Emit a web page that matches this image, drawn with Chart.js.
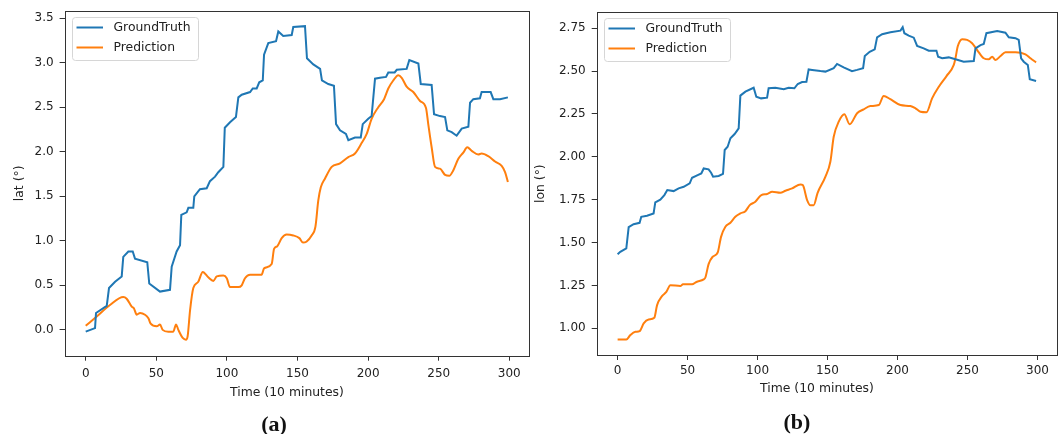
<!DOCTYPE html>
<html>
<head>
<meta charset="utf-8">
<script src="https://cdn.jsdelivr.net/npm/chart.js@4.4.0/dist/chart.umd.min.js"></script>
<style>
  body { margin: 0; background: #fff; }
  #wrap { position: relative; width: 1064px; height: 434px; overflow: hidden; background: #fff; }
  canvas { position: absolute; top: 0; }
  .xtitle { position: absolute; width: 200px; text-align: center; font: 12.4px "DejaVu Sans", sans-serif; line-height: 16px; color: #222; }
  .cap { position: absolute; width: 100px; text-align: center; font: bold 22px "Liberation Serif", "DejaVu Serif", serif; line-height: 26px; color: #111; }
</style>
</head>
<body>
<div id="wrap">
  <canvas id="latChart" width="532" height="434" style="left:0"></canvas>
  <canvas id="lonChart" width="532" height="434" style="left:532px"></canvas>
  <div class="xtitle" style="left:187px; top:384px">Time (10 minutes)</div>
  <div class="xtitle" style="left:717px; top:380px">Time (10 minutes)</div>
  <div class="cap" style="left:224px; top:411px">(a)</div>
  <div class="cap" style="left:747px; top:409px">(b)</div>
</div>
<script>
// Tick values
const timeTicks = [0, 50, 100, 150, 200, 250, 300];
const latTicks = [0, 0.5, 1.0, 1.5, 2.0, 2.5, 3.0, 3.5];
const lonTicks = [1.0, 1.25, 1.5, 1.75, 2.0, 2.25, 2.5, 2.75];
const seriesNames = ['GroundTruth', 'Prediction'];

// (a) latitude
const latTruthT = [0, 6.6, 7.3, 14.9, 16.5, 20.8, 25.5, 26.6, 30.2, 33.3, 34.9, 43.6, 45, 52.6, 59.7, 60.9, 64.4, 66.8, 67.7, 71.5,
  72.7, 76.2, 76.9, 80.9, 85.7, 88, 91.6, 93.9, 97.5, 98.5, 102.2, 106.4, 108.1, 110.5, 116.4, 118.3, 121.1, 122.9, 125.4, 126.3,
  129.3, 134.8, 136.4, 139.9, 145.9, 147, 155.3, 156.7, 161.2, 166, 167.3, 171.8, 175.8, 177.3, 180.1, 184.3, 186, 190.7, 194.8, 196.2,
  200.1, 202.5, 204.9, 208.4, 212.7, 214.3, 218.8, 220.3, 227.3, 229.2, 235.6, 237.3, 245, 246.7, 250.9, 254.5, 256.1, 259.2, 262.7, 266.3,
  271, 272.2, 274.5, 279.2, 280.4, 286.8, 288.7, 293.4, 299];
const latTruthV = [-0.02, 0.02, 0.19, 0.27, 0.47, 0.54, 0.60, 0.82, 0.88, 0.88, 0.80, 0.76, 0.52, 0.43, 0.45, 0.71, 0.88, 0.95, 1.29, 1.32,
  1.37, 1.37, 1.50, 1.58, 1.59, 1.67, 1.72, 1.77, 1.83, 2.27, 2.33, 2.39, 2.61, 2.64, 2.67, 2.71, 2.71, 2.78, 2.80, 3.09,
  3.22, 3.24, 3.35, 3.30, 3.31, 3.40, 3.41, 3.05, 2.98, 2.93, 2.80, 2.76, 2.74, 2.31, 2.24, 2.20, 2.13, 2.16, 2.16, 2.31,
  2.37, 2.40, 2.82, 2.83, 2.84, 2.89, 2.89, 2.92, 2.93, 3.03, 2.99, 2.76, 2.75, 2.42, 2.40, 2.39, 2.24, 2.22, 2.18, 2.26,
  2.28, 2.55, 2.59, 2.60, 2.67, 2.67, 2.59, 2.59, 2.61];
const latPredT = [0, 7.8, 17.2, 26.6, 29, 32.6, 34.2, 36.1, 38.5, 42, 44.4, 46, 50.3, 52.6, 54.5, 58.5, 62, 64, 65.6, 68.7,
  71, 72.2, 73.9, 76.2, 79.7, 82.9, 86.8, 90.4, 92.8, 97.5, 99.9, 102.2, 108.1, 110.5, 112.8, 116.4, 124.6, 126.3, 131.7, 133.4,
  135.7, 138.8, 142.3, 147, 151.3, 153.9, 156.3, 160, 162.7, 164.7, 166.5, 169.5, 174.2, 180.1, 186, 190.7, 195.5, 199, 202.5, 207.2,
  211.3, 214.3, 217.8, 221.4, 223.8, 227.3, 232, 236.8, 241, 242.6, 245, 247.4, 250.9, 254.5, 257.5, 260.3, 263.9, 267.4, 270.2, 273.4,
  278, 280.4, 285.1, 289.9, 294.6, 297, 299];
const latPredV = [0.045, 0.15, 0.28, 0.37, 0.35, 0.26, 0.24, 0.17, 0.19, 0.17, 0.13, 0.07, 0.04, 0.06, 0.0, -0.02, -0.02, 0.06, 0.0, -0.09,
  -0.11, -0.07, 0.22, 0.47, 0.54, 0.65, 0.59, 0.55, 0.60, 0.61, 0.58, 0.48, 0.48, 0.50, 0.58, 0.62, 0.62, 0.69, 0.74, 0.91,
  0.94, 1.03, 1.07, 1.06, 1.03, 0.98, 0.99, 1.06, 1.16, 1.45, 1.60, 1.70, 1.83, 1.87, 1.94, 1.98, 2.10, 2.20, 2.37, 2.50,
  2.59, 2.71, 2.80, 2.86, 2.83, 2.73, 2.67, 2.57, 2.49, 2.31, 2.05, 1.83, 1.81, 1.74, 1.73, 1.79, 1.92, 1.99, 2.05, 2.01,
  1.97, 1.98, 1.95, 1.89, 1.84, 1.77, 1.66];

// (b) longitude
const lonTruthT = [0, 1.9, 6.2, 7.9, 11.4, 15.7, 16.9, 21, 25.7, 26.9, 30.5, 33.4, 35.5, 40, 43.6, 47.2, 51.5, 53.2, 57.2, 59.8,
  61.5, 65, 66.8, 68.2, 72.2, 75.3, 76.5, 78.6, 80.6, 83.6, 86.5, 87.7, 91.3, 97.2, 99.1, 102.5, 106.8, 107.9, 112.7, 118.7,
  122.2, 126.3, 128.7, 131.8, 134.9, 136.5, 139, 144.9, 148.5, 154.4, 156.8, 161.5, 167.5, 171.1, 175.4, 176.6, 180.1, 183.7, 185.4, 189,
  194.9, 202.1, 203.7, 204.9, 208, 211.6, 214, 218.7, 222.3, 227.8, 229, 231.9, 236.6, 241.4, 247.3, 254.5, 255.7, 259.3, 261.6, 263.5,
  271.2, 277.1, 279.5, 284.3, 286.6, 288.3, 290.2, 293.1, 294.5, 299];
const lonTruthV = [1.432, 1.446, 1.466, 1.59, 1.607, 1.615, 1.65, 1.656, 1.67, 1.734, 1.75, 1.777, 1.806, 1.80, 1.816, 1.825, 1.845, 1.878, 1.893, 1.903,
  1.932, 1.927, 1.907, 1.884, 1.888, 1.90, 2.04, 2.059, 2.108, 2.133, 2.166, 2.357, 2.38, 2.403, 2.35, 2.341, 2.345, 2.40, 2.403, 2.394,
  2.403, 2.40, 2.425, 2.436, 2.438, 2.51, 2.507, 2.50, 2.497, 2.517, 2.542, 2.522, 2.50, 2.507, 2.517, 2.588, 2.613, 2.627, 2.697, 2.715,
  2.727, 2.736, 2.756, 2.721, 2.707, 2.695, 2.647, 2.633, 2.619, 2.619, 2.584, 2.575, 2.58, 2.569, 2.555, 2.559, 2.633, 2.652, 2.658, 2.721,
  2.734, 2.724, 2.697, 2.692, 2.682, 2.575, 2.555, 2.536, 2.452, 2.442];
const lonPredT = [0, 6.2, 9.1, 12.7, 15.7, 18.6, 22.2, 26.2, 28.2, 31.7, 34.8, 37.7, 44.8, 46.7, 53.2, 56.3, 61.5, 62.7, 65, 67.9,
  71.5, 73.9, 77, 80.6, 84.1, 87.7, 91.3, 94.4, 98.4, 102.7, 106.8, 110.4, 116.3, 119.9, 124.7, 130.6, 132.3, 135.4, 137.7, 140.1,
  142.9, 148.5, 152, 154.4, 158, 162, 165.8, 171.1, 175.8, 180.6, 186.6, 190.1, 194.9, 202.1, 209.2, 212.8, 216.4, 220.7, 224.7, 229.5,
  235, 240.2, 241.4, 243, 246.2, 249.7, 253.3, 256.9, 261.6, 265.2, 267.6, 270, 273.6, 277.1, 284.3, 291.4, 295, 299];
const lonPredV = [0.934, 0.934, 0.96, 0.979, 0.983, 1.028, 1.051, 1.061, 1.135, 1.187, 1.212, 1.251, 1.247, 1.256, 1.256, 1.27, 1.285, 1.296, 1.374, 1.417,
  1.442, 1.533, 1.592, 1.615, 1.65, 1.67, 1.683, 1.718, 1.738, 1.777, 1.783, 1.796, 1.79, 1.802, 1.816, 1.839, 1.835, 1.748, 1.718, 1.718,
  1.79, 1.884, 1.971, 2.117, 2.205, 2.248, 2.19, 2.254, 2.277, 2.296, 2.302, 2.355, 2.336, 2.302, 2.296, 2.283, 2.263, 2.26, 2.341, 2.409,
  2.471, 2.536, 2.575, 2.643, 2.686, 2.682, 2.662, 2.623, 2.575, 2.569, 2.584, 2.565, 2.588, 2.61, 2.61, 2.598, 2.575, 2.551];

const colors = { truth: '#1f77b4', pred: '#ff7f0e', axis: '#333333', text: '#222222' };
const FONT = '"DejaVu Sans", sans-serif';

function points(ts, vs) {
    return ts.map((t, i) => ({ x: t, y: vs[i] }));
}

// Full box around the plot area, like matplotlib spines
const framePlugin = {
    id: 'frame',
    afterDatasetsDraw(chart) {
        const { ctx, chartArea: a } = chart;
        ctx.save();
        ctx.strokeStyle = colors.axis;
        ctx.lineWidth = 1;
        ctx.strokeRect(Math.round(a.left) + 0.5, Math.round(a.top) + 0.5,
            Math.round(a.right - a.left), Math.round(a.bottom - a.top));
        ctx.restore();
    }
};

// Legend box in the upper left corner
const legendPlugin = {
    id: 'boxLegend',
    afterDraw(chart) {
        const { ctx, chartArea } = chart;
        const x = Math.round(chartArea.left) + 7, y = Math.round(chartArea.top) + 6;
        const w = 126, h = 43;
        ctx.save();
        ctx.beginPath();
        ctx.roundRect(x + 0.5, y + 0.5, w, h, 3);
        ctx.fillStyle = 'rgba(255,255,255,0.8)';
        ctx.fill();
        ctx.strokeStyle = '#d6d6d6';
        ctx.lineWidth = 1;
        ctx.stroke();
        ctx.font = '12.4px ' + FONT;
        ctx.textBaseline = 'middle';
        chart.data.datasets.forEach((ds, i) => {
            const ly = y + 10.5 + i * 20;
            ctx.strokeStyle = ds.borderColor;
            ctx.lineWidth = 2;
            ctx.beginPath();
            ctx.moveTo(x + 4.5, ly);
            ctx.lineTo(x + 31, ly);
            ctx.stroke();
            ctx.fillStyle = colors.text;
            ctx.fillText(ds.label, x + 41.5, ly + 0.5);
        });
        ctx.restore();
    }
};

function makeChart(canvasId, cfg) {
    const tickGrid = { drawOnChartArea: false, drawTicks: true, tickLength: 5, color: colors.axis };
    return new Chart(document.getElementById(canvasId), {
        type: 'line',
        data: {
            datasets: [
                {
                    label: seriesNames[0],
                    data: points(cfg.truthT, cfg.truthV),
                    borderColor: colors.truth,
                    borderWidth: 2,
                    pointRadius: 0,
                    tension: 0,
                    fill: false
                },
                {
                    label: seriesNames[1],
                    data: points(cfg.predT, cfg.predV),
                    borderColor: colors.pred,
                    borderWidth: 2,
                    pointRadius: 0,
                    cubicInterpolationMode: 'monotone',
                    fill: false
                }
            ]
        },
        options: {
            responsive: false,
            animation: false,
            devicePixelRatio: 1,
            layout: { padding: cfg.padding },
            plugins: {
                legend: { display: false },
                tooltip: { enabled: false }
            },
            scales: {
                x: {
                    type: 'linear',
                    min: -14.95,
                    max: 313.95,
                    afterFit: s => {
                        s.height = cfg.xHeight;
                        s.paddingLeft = s.paddingRight = s.paddingTop = s.paddingBottom = 0;
                    },
                    afterBuildTicks: s => { s.ticks = timeTicks.map(v => ({ value: v })); },
                    grid: tickGrid,
                    border: { display: false },
                    ticks: {
                        padding: cfg.xTickPad,
                        color: colors.text,
                        font: { family: FONT, size: 12 },
                        maxRotation: 0,
                        autoSkip: false
                    }
                },
                y: {
                    type: 'linear',
                    min: cfg.yMin,
                    max: cfg.yMax,
                    afterFit: s => {
                        s.width = cfg.yWidth;
                        s.paddingLeft = s.paddingRight = s.paddingTop = s.paddingBottom = 0;
                    },
                    afterBuildTicks: s => { s.ticks = cfg.yTicks.map(v => ({ value: v })); },
                    grid: tickGrid,
                    border: { display: false },
                    ticks: {
                        padding: 6,
                        color: colors.text,
                        font: { family: FONT, size: 12 },
                        autoSkip: false,
                        callback: v => v.toFixed(cfg.decimals)
                    },
                    title: {
                        display: true,
                        text: cfg.yTitle,
                        color: colors.text,
                        font: { family: FONT, size: 12.4 },
                        padding: { top: cfg.yTitlePad, bottom: 0 }
                    }
                }
            }
        },
        plugins: [framePlugin, legendPlugin]
    });
}

makeChart('latChart', {
    truthT: latTruthT, truthV: latTruthV, predT: latPredT, predV: latPredV,
    padding: { left: 0, top: 11, right: 3, bottom: 0 },
    yWidth: 64.6, xHeight: 434 - 355.7, xTickPad: 5.5,
    yMin: -0.29, yMax: 3.58, yTicks: latTicks, decimals: 1,
    yTitle: 'lat (°)', yTitlePad: 12.5
});

makeChart('lonChart', {
    truthT: lonTruthT, truthV: lonTruthV, predT: lonPredT, predV: lonPredV,
    padding: { left: 0, top: 12.3, right: 7, bottom: 0 },
    yWidth: 64.7, xHeight: 434 - 355, xTickPad: 3.2,
    yMin: 0.844, yMax: 2.843, yTicks: lonTicks, decimals: 2,
    yTitle: 'lon (°)', yTitlePad: 1.3
});
</script>
</body>
</html>
